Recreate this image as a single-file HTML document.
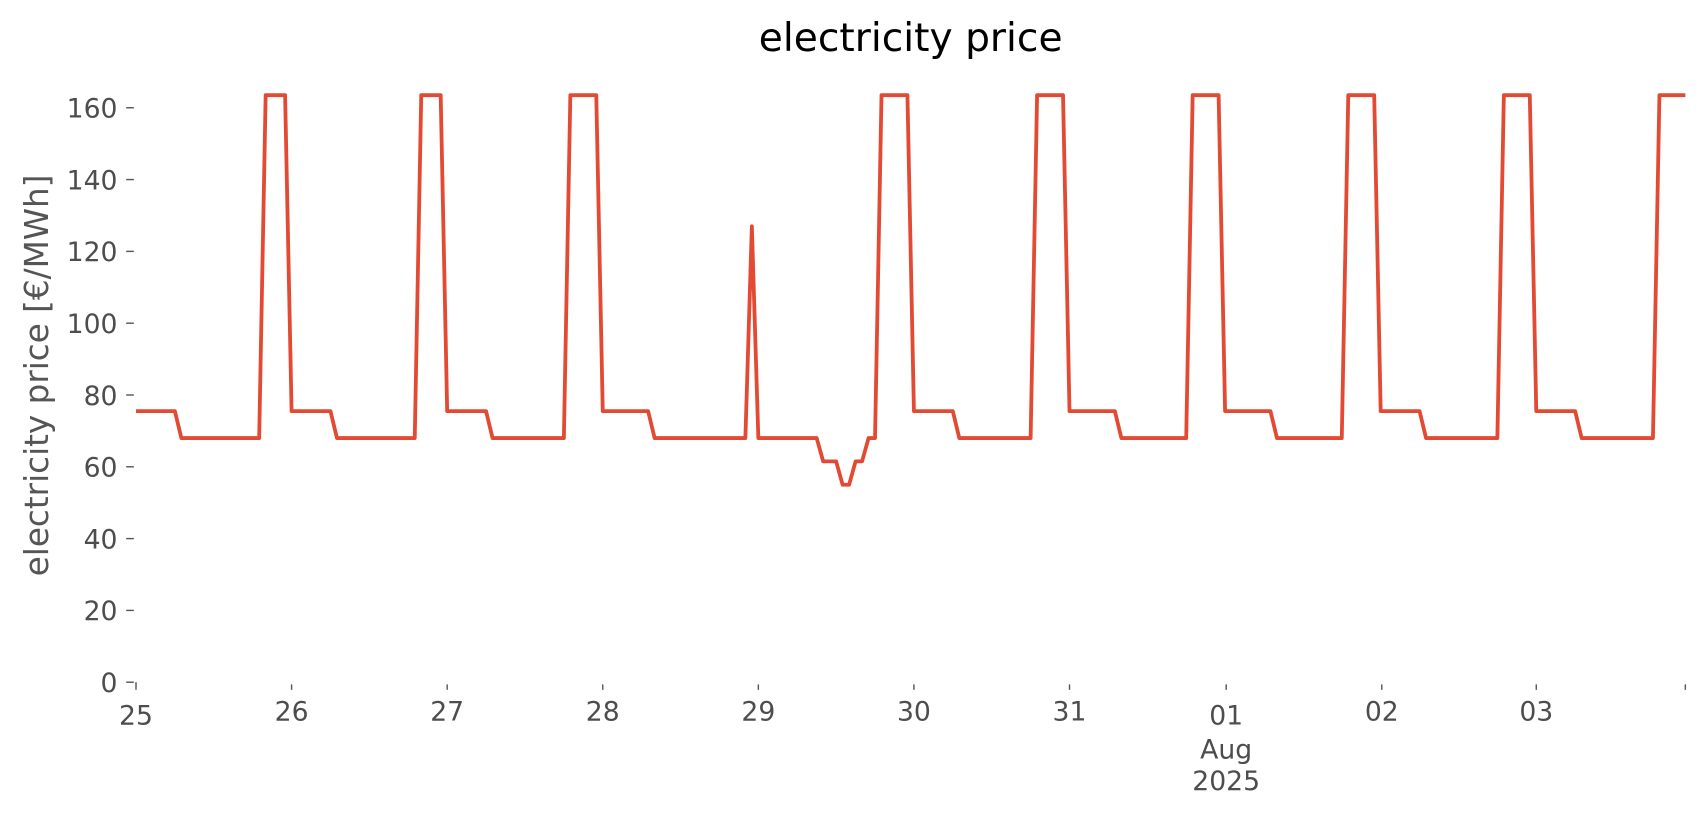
<!DOCTYPE html>
<html><head><style>html,body{margin:0;padding:0;background:#fff;}svg{display:block;}</style></head>
<body>
<svg width="1706" height="815" viewBox="0 0 1568 749" xmlns="http://www.w3.org/2000/svg" font-family="'DejaVu Sans', 'Liberation Sans', sans-serif">
<rect width="1568" height="749" fill="#fff"/>
<text x="837" y="47" font-size="36" text-anchor="middle" fill="#000">electricity price</text>
<text transform="translate(44,345) rotate(-90)" font-size="30" text-anchor="middle" fill="#555">electricity price [€/MWh]</text>
<g font-size="24.5" fill="#4d4d4d" text-anchor="end">
<text x="108" y="636">0</text>
<text x="108" y="570">20</text>
<text x="108" y="504">40</text>
<text x="108" y="438">60</text>
<text x="108" y="372">80</text>
<text x="108" y="306">100</text>
<text x="108" y="240">120</text>
<text x="108" y="174">140</text>
<text x="108" y="108">160</text>
</g>
<g stroke="#555" stroke-width="1.3">
<line x1="116" x2="123" y1="627" y2="627"/><line x1="116" x2="123" y1="561" y2="561"/>
<line x1="116" x2="123" y1="495" y2="495"/><line x1="116" x2="123" y1="429" y2="429"/>
<line x1="116" x2="123" y1="363" y2="363"/><line x1="116" x2="123" y1="297" y2="297"/>
<line x1="116" x2="123" y1="231" y2="231"/><line x1="116" x2="123" y1="165" y2="165"/>
<line x1="116" x2="123" y1="99" y2="99"/>
<line x1="125" x2="125" y1="627" y2="634"/><line x1="268" x2="268" y1="629" y2="634"/>
<line x1="411" x2="411" y1="629" y2="634"/><line x1="554" x2="554" y1="629" y2="634"/>
<line x1="697" x2="697" y1="629" y2="634"/><line x1="840" x2="840" y1="629" y2="634"/>
<line x1="983" x2="983" y1="629" y2="634"/><line x1="1127" x2="1127" y1="629" y2="634"/>
<line x1="1270" x2="1270" y1="629" y2="634"/><line x1="1412" x2="1412" y1="629" y2="634"/>
<line x1="1549" x2="1549" y1="629" y2="634"/>
</g>
<g font-size="24.5" fill="#4d4d4d" text-anchor="middle">
<text x="125" y="666">25</text><text x="268" y="662">26</text><text x="411" y="662">27</text>
<text x="554" y="662">28</text><text x="697" y="662">29</text><text x="840" y="662">30</text>
<text x="983" y="662">31</text><text x="1127" y="666">01</text><text x="1127" y="697">Aug</text>
<text x="1127" y="726">2025</text>
<text x="1270" y="662">02</text><text x="1412" y="662">03</text>
</g>
<g transform="translate(125,627) scale(5.9583,-3.3)">
<polyline fill="none" stroke="#e24a33" stroke-width="3.8" vector-effect="non-scaling-stroke" stroke-linejoin="round"
points="0,75.5 6,75.5 7,68 19,68 20,163.5 23,163.5
24,75.5 30,75.5 31,68 43,68 44,163.5 47,163.5
48,75.5 54,75.5 55,68 66,68 67,163.5 71,163.5
72,75.5 79,75.5 80,68 94,68 95,127
96,68 105,68 106,61.5 108,61.5 109,55 110,55 111,61.5 112,61.5 113,68 114,68 115,163.5 119,163.5
120,75.5 126,75.5 127,68 138,68 139,163.5 143,163.5
144,75.5 151,75.5 152,68 162,68 163,163.5 167,163.5
168,75.5 175,75.5 176,68 186,68 187,163.5 191,163.5
192,75.5 198,75.5 199,68 210,68 211,163.5 215,163.5
216,75.5 222,75.5 223,68 234,68 235,163.5 239,163.5"/>
</g>
</svg>
</body></html>
